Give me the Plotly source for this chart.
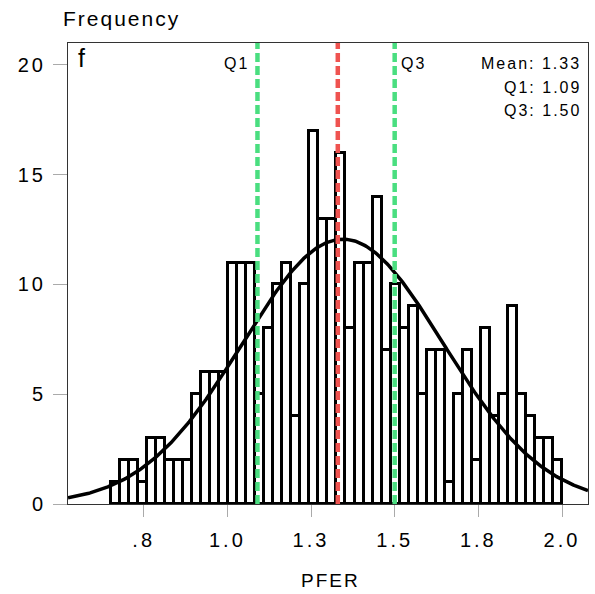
import numpy as np
import plotly.graph_objects as go

# ---- data ----
counts = [1, 2, 2, 1, 3, 3, 2, 2, 2, 5,
          6, 6, 6, 11, 11, 11, 5, 8, 10, 11,
          4, 10, 17, 13, 13, 16, 8, 11, 11, 14,
          7, 10, 8, 9, 5, 7, 7, 1, 5, 7,
          2, 8, 4, 5, 9, 5, 4, 3, 3, 2]
bin_start = 0.651
bin_width = 0.027
curve_mean = 1.345
curve_sd = 0.30
mean_val = 1.33
q1_val = 1.09
q3_val = 1.50
x_tickvals = [0.75, 1.0, 1.25, 1.5, 1.75, 2.0]
x_ticktext = [".8", "1.0", "1.3", "1.5", "1.8", "2.0"]
y_tickvals = [0, 5, 10, 15, 20]
x_range = [0.5238, 2.0777]
y_range = [0, 21]

centers = [bin_start + (i + 0.5) * bin_width for i in range(len(counts))]
n_total = sum(counts)
xs = np.linspace(x_range[0], x_range[1], 400)
ys = n_total * bin_width * np.exp(-0.5 * ((xs - curve_mean) / curve_sd) ** 2) / (curve_sd * np.sqrt(2 * np.pi))

FONT = "Liberation Sans, Arial, Helvetica, sans-serif"

fig = go.Figure()
fig.add_trace(go.Bar(x=centers, y=counts, width=bin_width,
                     marker=dict(color="white", line=dict(color="black", width=3)),
                     hoverinfo="skip"))
fig.add_trace(go.Scatter(x=xs, y=ys, mode="lines",
                         line=dict(color="black", width=3.5), hoverinfo="skip"))

for xv, col in [(q1_val, "#4ade80"), (mean_val, "#ef5350"), (q3_val, "#4ade80")]:
    fig.add_shape(type="line", xref="x", yref="paper", x0=xv, x1=xv, y0=0, y1=1,
                  line=dict(color=col, width=4.5, dash="9px,4px"), layer="above")

ann = []
ann.append(dict(text="Frequency", xref="paper", yref="paper", x=-0.0135, y=1.054,
                xanchor="left", align="left", yanchor="middle", showarrow=False, font=dict(size=21)))
ann.append(dict(text="f", xref="paper", yref="paper", x=0.015, y=0.9685,
                xanchor="left", align="left", yanchor="middle", showarrow=False, font=dict(size=25)))
ann.append(dict(text="Q1", xref="x", yref="paper", x=q1_val, xshift=-6, y=0.9545,
                xanchor="right", align="right", yanchor="middle", showarrow=False, font=dict(size=16)))
ann.append(dict(text="Q3", xref="x", yref="paper", x=q3_val, xshift=4, y=0.9545,
                xanchor="left", align="left", yanchor="middle", showarrow=False, font=dict(size=16)))
stats = ["Mean: %.2f" % mean_val, "Q1: %.2f" % q1_val, "Q3: %.2f" % q3_val]
for k, s in enumerate(stats):
    ann.append(dict(text=s, xref="paper", yref="paper", x=0.991, y=0.9545 - k * 0.0505,
                    xanchor="right", align="right", yanchor="middle", showarrow=False,
                    font=dict(size=16)))
ann.append(dict(text="PFER", xref="paper", yref="paper", x=0.505, y=-0.167,
                xanchor="center", yanchor="middle", showarrow=False, font=dict(size=19)))

fig.update_layout(
    width=595, height=594,
    margin=dict(l=68, r=7, t=43, b=90, pad=0),
    paper_bgcolor="white", plot_bgcolor="white",
    showlegend=False, bargap=0,
    font=dict(family=FONT, color="black"),
    annotations=ann,
    xaxis=dict(range=x_range, tickvals=x_tickvals, ticktext=x_ticktext,
               showline=True, linecolor="#333", linewidth=1, mirror=True,
               ticks="outside", ticklen=12, tickcolor="#aaa", tickwidth=1,
               showgrid=False, zeroline=False, tickfont=dict(size=20),
               ticklabelstandoff=6),
    yaxis=dict(range=y_range, tickvals=y_tickvals,
               showline=True, linecolor="#333", linewidth=1, mirror=True,
               ticks="outside", ticklen=14, tickcolor="#aaa", tickwidth=1,
               showgrid=False, zeroline=False, tickfont=dict(size=20),
               ticklabelstandoff=3),
)

post = ("var st=document.createElement('style');"
        "st.textContent='body{margin:0} svg text{letter-spacing:2px} .xtick text,.ytick text{letter-spacing:3px}';"
        "document.head.appendChild(st);")
fig.write_html("out.html", post_script=post, config={"displayModeBar": False})
